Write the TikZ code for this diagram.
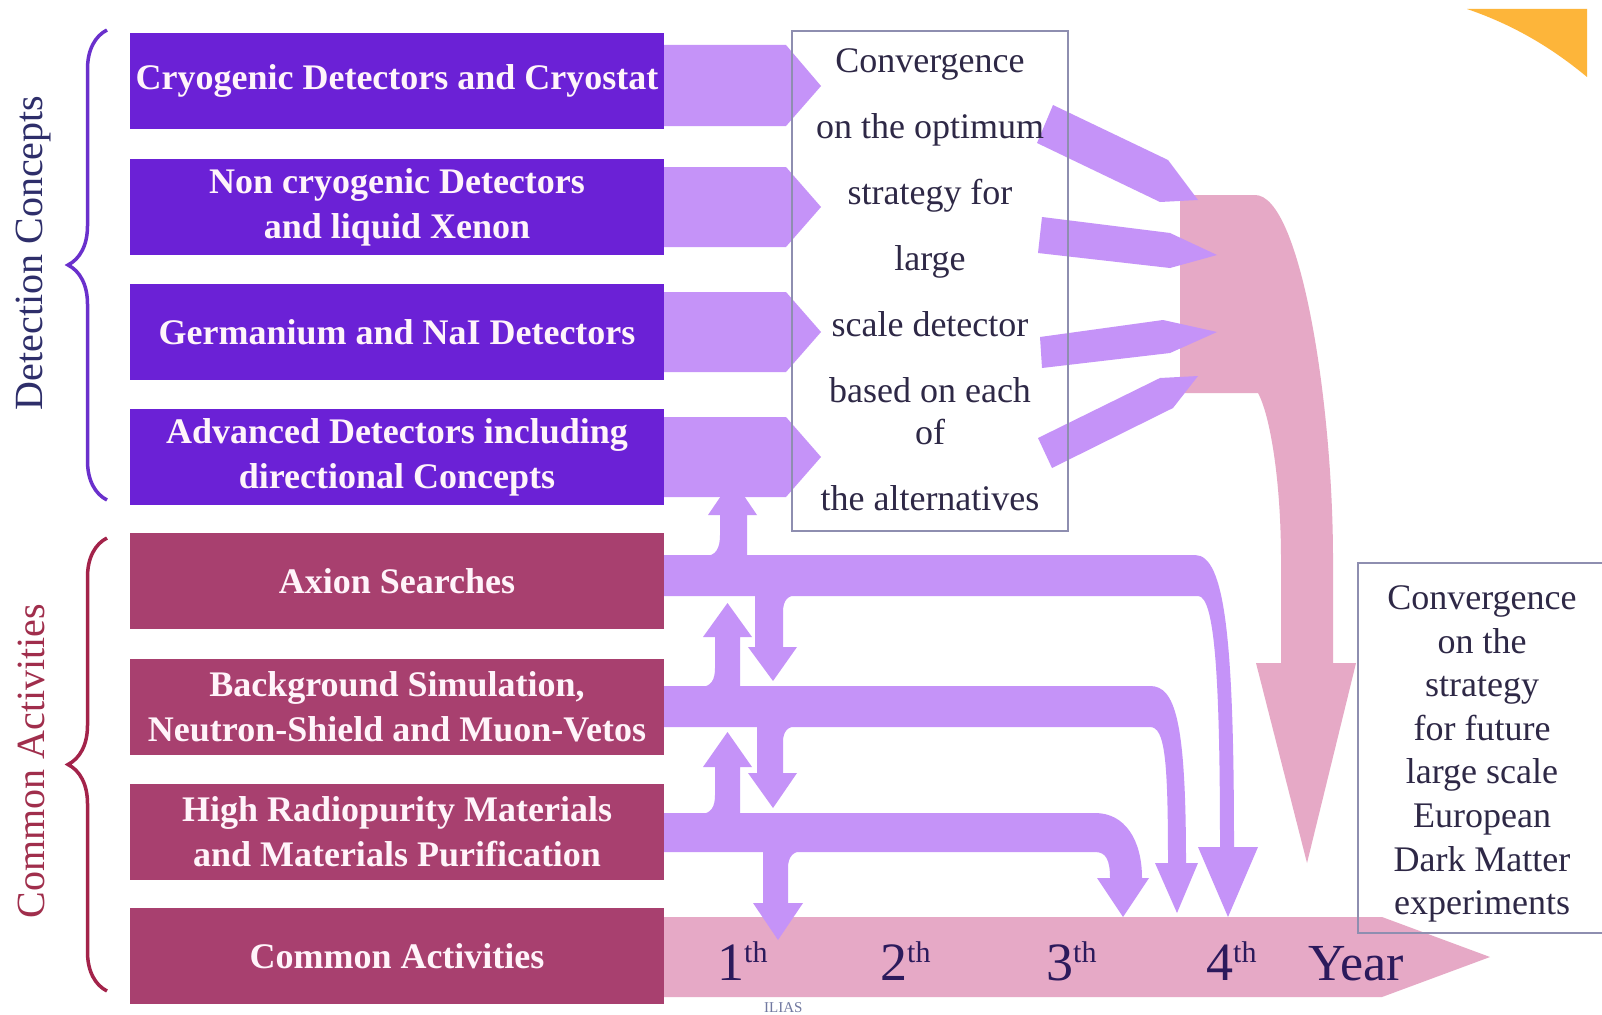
\documentclass[tikz,border=0pt]{standalone}
\usepackage{fontspec}
\setmainfont{Liberation Serif}
\usetikzlibrary{decorations.pathreplacing}
\definecolor{boxpurple}{HTML}{6B21D6}
\definecolor{boxmag}{HTML}{A8406F}
\definecolor{boxtext}{HTML}{FFF4FA}
\definecolor{flowpurple}{HTML}{C593F8}
\definecolor{flowpink}{HTML}{E6A9C6}
\definecolor{convborder}{HTML}{8E8EB0}
\definecolor{convtext}{HTML}{2E2846}
\definecolor{yeartext}{HTML}{2C1A5C}
\definecolor{braceA}{HTML}{6A30CC}
\definecolor{braceB}{HTML}{A3234A}
\definecolor{labelA}{HTML}{2E2E6A}
\definecolor{labelB}{HTML}{A02E4C}
\definecolor{cornerorange}{HTML}{FDB53A}
\definecolor{footgray}{HTML}{7078A0}
\newcommand\yrth{\raisebox{18pt}{\fontsize{30}{30}\selectfont th}}
\begin{document}
\begin{tikzpicture}[x=1pt,y=-1pt,
  pbox/.style={fill=boxpurple, text=boxtext, minimum width=534pt, minimum height=96pt,
    inner sep=0pt, align=center, font=\fontsize{36}{45}\selectfont\bfseries},
  mbox/.style={pbox, fill=boxmag},
  flow/.style={fill=flowpurple},
  bigflow/.style={fill=flowpink},
  convbox/.style={draw=convborder, line width=1.5pt, inner sep=0pt},
  convtxt/.style={text=convtext, align=center, inner sep=0pt},
  yearlab/.style={text=yeartext, anchor=base west, inner sep=0pt, font=\fontsize{54}{54}\selectfont},
  sidelab/.style={rotate=90, inner sep=0pt, font=\fontsize{40}{40}\selectfont},
  bracestyle/.style={decorate, decoration={brace, amplitude=39pt}, line width=3.5pt}
]
\useasboundingbox (0,0) rectangle (1602,1014);
\fill[white] (0,0) rectangle (1602,1014);

% corner decoration
\fill[cornerorange] (1467,9) -- (1587,9) -- (1587,77) .. controls (1545,42) and (1505,22) .. (1467,9) -- cycle;

% timeline arrow
\fill[bigflow] (664,917) -- (1382,917) -- (1490,957) -- (1382,997) -- (664,997) -- cycle;

% big curved convergence arrow
\fill[bigflow] (1180,195) -- (1255,195) .. controls (1300,195) and (1333,400) .. (1333,560)
  -- (1333,663) -- (1356,663) -- (1307,863) -- (1256,663) -- (1281,663) -- (1281,560)
  .. controls (1281,480) and (1270,415) .. (1258,393) -- (1180,393) -- cycle;

% horizontal bands of the common activities
\fill[flow] (664,555) -- (1195,555) .. controls (1225,555) and (1234,640) .. (1234,847)
  -- (1258,847) -- (1228,917) -- (1198,847) -- (1220,847)
  .. controls (1220,680) and (1215,596) .. (1198,596) -- (664,596) -- cycle;
\fill[flow] (664,686) -- (1150,686) .. controls (1175,686) and (1186,720) .. (1186,863)
  -- (1198,863) -- (1177,913) -- (1155,863) -- (1168,863)
  .. controls (1168,760) and (1165,727) .. (1150,727) -- (664,727) -- cycle;
\fill[flow] (664,813) -- (1095,813) .. controls (1125,813) and (1142,840) .. (1142,878)
  -- (1149,878) -- (1123,917) -- (1097,878) -- (1110,878)
  .. controls (1110,860) and (1106,852) .. (1095,852) -- (664,852) -- cycle;

% vertical exchange arrows
\fill[flow] (705,556) .. controls (716,556) and (720,548) .. (720,535) -- (720,515) -- (708,515)
  -- (732.5,479) -- (757,515) -- (747,515) -- (747,556) -- cycle;
\fill[flow] (755,595) -- (755,647) -- (748,647) -- (773,681) -- (797,647) -- (783,647)
  -- (783,612) .. controls (783,600) and (788,595) .. (798,595) -- cycle;
\fill[flow] (700,687) .. controls (711,687) and (715,680) .. (715,668) -- (715,637) -- (703,637)
  -- (727.5,603) -- (752,637) -- (740,637) -- (740,687) -- cycle;
\fill[flow] (757,726) -- (757,773) -- (748,773) -- (773,808) -- (797,773) -- (783,773)
  -- (783,742) .. controls (783,731) and (788,726) .. (798,726) -- cycle;
\fill[flow] (700,814) .. controls (711,814) and (715,807) .. (715,795) -- (715,767) -- (703,767)
  -- (727.5,732) -- (752,767) -- (740,767) -- (740,814) -- cycle;
\fill[flow] (763,851) -- (763,903) -- (753,903) -- (778,940) -- (803,903) -- (788,903)
  -- (788,868) .. controls (788,857) and (793,851) .. (803,851) -- cycle;

% converging arrows into the big arrow
\fill[flow] (1053,105) -- (1168,160) -- (1198,200) -- (1160,202) -- (1037,143) -- cycle;
\fill[flow] (1042,217) -- (1170,233) -- (1217,255) -- (1170,268) -- (1038,253) -- cycle;
\fill[flow] (1040,337) -- (1163,320) -- (1217,332) -- (1170,353) -- (1042,368) -- cycle;
\fill[flow] (1038,438) -- (1160,378) -- (1198,376) -- (1173,408) -- (1052,468) -- cycle;

% arrows from detection concepts
\fill[flow] (664,45) -- (786,45) -- (821,86) -- (786,126) -- (664,126) -- cycle;
\fill[flow] (664,167) -- (786,167) -- (821,207) -- (786,247) -- (664,247) -- cycle;
\fill[flow] (664,292) -- (786,292) -- (821,332) -- (786,372) -- (664,372) -- cycle;
\fill[flow] (664,417) -- (786,417) -- (821,457) -- (786,497) -- (664,497) -- cycle;

% boxes
\node[pbox] (cryo) at (397,81) {Cryogenic Detectors and Cryostat};
\node[pbox] (noncryo) at (397,207) {Non cryogenic Detectors\\and liquid Xenon};
\node[pbox] (ge) at (397,332) {Germanium and NaI Detectors};
\node[pbox] (adv) at (397,457) {Advanced Detectors including\\directional Concepts};
\node[mbox] (axion) at (397,581) {Axion Searches};
\node[mbox] (bg) at (397,707) {Background Simulation,\\Neutron-Shield and Muon-Vetos};
\node[mbox] (radio) at (397,832) {High Radiopurity Materials\\and Materials Purification};
\node[mbox] (common) at (397,956) {Common Activities};

% braces and side labels
\draw[bracestyle, draw=braceA] (107,500) -- (107,30);
\draw[bracestyle, draw=braceB] (107,991) -- (107,538);
\node[sidelab, text=labelA] (dc) at (34,253) {Detection Concepts};
\node[sidelab, text=labelB] (ca) at (31,761) {Common Activities};

% convergence boxes
\node[convbox, minimum width=276pt, minimum height=500pt] (conv1) at (930,281) {};
\node[convtxt, font=\fontsize{36}{42}\selectfont] (conv1txt) at (930,280)
  {Convergence\\[24pt] on the optimum\\[24pt] strategy for\\[24pt] large\\[24pt] scale detector\\[24pt] based on each\\ of\\[24pt] the alternatives};
\node[convbox, minimum width=248pt, minimum height=370pt] (conv2) at (1482,748) {};
\node[convtxt, font=\fontsize{36}{43.6}\selectfont] (conv2txt) at (1482,754)
  {Convergence\\ on the\\ strategy\\ for future\\ large scale\\ European\\ Dark Matter\\ experiments};

% year labels
\node[yearlab] (y1) at (717,980) {1\yrth};
\node[yearlab] (y2) at (880,980) {2\yrth};
\node[yearlab] (y3) at (1046,980) {3\yrth};
\node[yearlab] (y4) at (1206,980) {4\yrth};
\node[yearlab, font=\fontsize{52}{52}\selectfont] (yr) at (1308,980) {Year};

% footer fragment
\node[anchor=base west, inner sep=0pt, text=footgray, font=\fontsize{15}{15}\selectfont] (foot) at (764,1012) {ILIAS};
\end{tikzpicture}
\end{document}
